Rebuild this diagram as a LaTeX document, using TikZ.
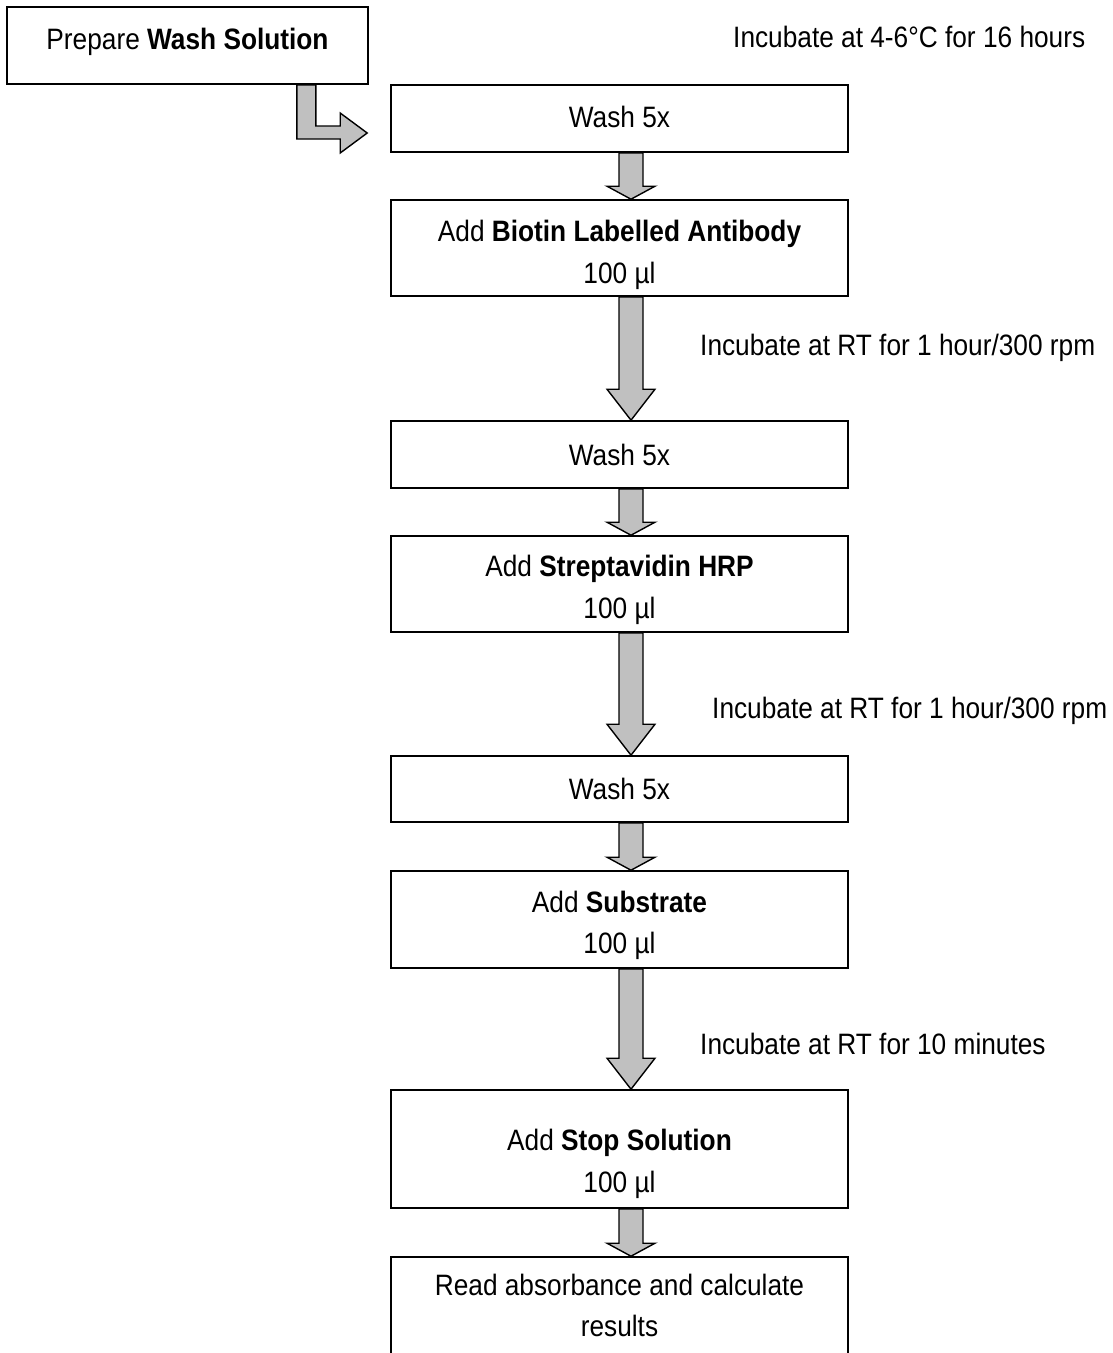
\documentclass[tikz,border=0pt]{standalone}
\usepackage{fontspec}
\setmainfont{Liberation Sans}[FakeStretch=0.89]
\usetikzlibrary{calc}
\definecolor{agray}{RGB}{192,192,192}
\newcommand\dnarrow[3]{%
  \draw[barrow] let \p1=(#1.south), \p2=(#2.north) in
    ({\x1-0.5pt},\y1) -- ({\x1+23.5pt},\y1) -- ({\x1+23.5pt},{\y2+#3}) --
    ({\x1+35.5pt},{\y2+#3}) -- ({\x1+11.5pt},\y2) -- ({\x1-12.5pt},{\y2+#3}) --
    ({\x1-0.5pt},{\y2+#3}) -- cycle;}
\newcommand\shifted[2]{\raisebox{#1}[\height][\depth]{#2}}
\newcommand\twolines[3]{\shifted{#1}{\begin{tabular}{@{}c@{}}#2\\#3\end{tabular}}}
\begin{document}
\begin{tikzpicture}[x=1pt,y=-1pt,
  box/.style={draw, line width=1.6pt, minimum width=457pt, inner sep=0pt,
    align=center, font=\fontsize{29.5}{41.5}\selectfont},
  lbl/.style={inner sep=0pt, anchor=base west, font=\fontsize{29.5}{36}\selectfont},
  barrow/.style={draw, line width=1.4pt, fill=agray, line join=miter}]
\useasboundingbox (0,0) rectangle (1113,1353);
\fill[white] (0,0) rectangle (1113,1353);

\node[box, minimum width=361pt, minimum height=77pt] (prep) at (187.5,45.5)
  {\shifted{4pt}{Prepare \textbf{Wash Solution}}};
\node[box, minimum height=67pt] (w1) at (619.5,118.5) {\shifted{1.5pt}{Wash 5x}};
\node[box, minimum height=96pt] (bio) at (619.5,248) {\twolines{-6pt}{Add \textbf{Biotin Labelled Antibody}}{100 µl}};
\node[box, minimum height=67pt] (w2) at (619.5,454.5) {Wash 5x};
\node[box, minimum height=96pt] (strep) at (619.5,584) {\twolines{-5pt}{Add \textbf{Streptavidin HRP}}{100 µl}};
\node[box, minimum height=66pt] (w3) at (619.5,789) {Wash 5x};
\node[box, minimum height=97pt] (sub) at (619.5,919.5) {\twolines{-5pt}{Add \textbf{Substrate}}{100 µl}};
\node[box, minimum height=118pt] (stop) at (619.5,1149) {\twolines{-14pt}{Add \textbf{Stop Solution}}{100 µl}};
\node[box, minimum height=97pt] (read) at (619.5,1305.5) {Read absorbance and calculate\\results};

\node[lbl] (l1) at (733,47) {Incubate at 4-6°C for 16 hours};
\node[lbl] (l2) at (700,355) {Incubate at RT for 1 hour/300 rpm};
\node[lbl] (l3) at (712,718) {Incubate at RT for 1 hour/300 rpm};
\node[lbl] (l4) at (700,1054) {Incubate at RT for 10 minutes};

\draw[barrow] let \p1=(prep.south east), \p2=(w1.west) in
  ({\x1-72pt},\y1) -- ({\x1-53pt},\y1) -- ({\x1-53pt},{\y2-7.5pt}) --
  ({\x2-50pt},{\y2-7.5pt}) -- ({\x2-50pt},{\y2+5.5pt}) -- ({\x2-23pt},{\y2-14.5pt}) --
  ({\x2-50pt},{\y2-34.5pt}) -- ({\x2-50pt},{\y2-20.5pt}) -- ({\x1-72pt},{\y2-20.5pt}) -- cycle;

\dnarrow{w1}{bio}{13pt}
\dnarrow{bio}{w2}{31pt}
\dnarrow{w2}{strep}{13pt}
\dnarrow{strep}{w3}{31pt}
\dnarrow{w3}{sub}{13pt}
\dnarrow{sub}{stop}{31pt}
\dnarrow{stop}{read}{13pt}
\end{tikzpicture}
\end{document}
